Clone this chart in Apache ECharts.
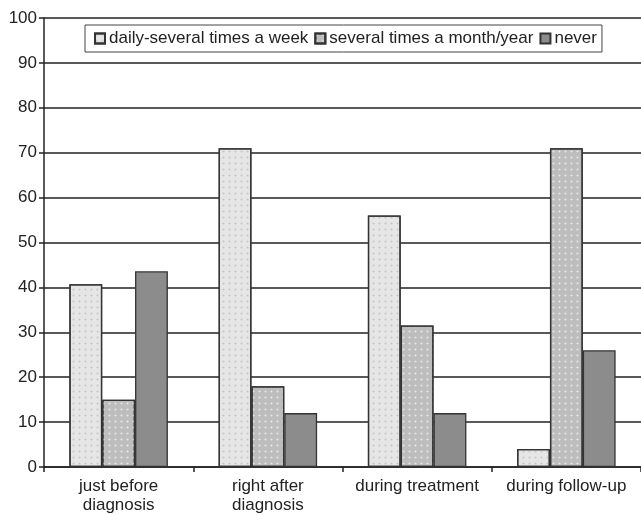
<!DOCTYPE html>
<html style="height: 100%">
<head>
<meta charset="utf-8">
<script src="https://cdn.jsdelivr.net/npm/echarts@6/dist/echarts.min.js"></script>
</head>
<body style="height: 100%; margin: 0; background: #fff">
<div id="container" style="width: 641px; height: 515px"></div>
<script type="text/javascript">
// categories and series values
var categories = ['just before\ndiagnosis', 'right after\ndiagnosis', 'during treatment', 'during follow-up'];
var seriesNames = ['daily-several times a week', 'several times a month/year', 'never'];
var daily = [40.7, 71, 56, 4];
var monthly = [15, 18, 31.5, 71];
var never = [43.6, 12, 12, 26];
var yTicks = [0, 100, 10];

var dom = document.getElementById('container');
var myChart = echarts.init(dom);

var font = 'Liberation Sans, Arial, sans-serif';

function dots(size, col) {
  return {
    symbol: 'circle',
    symbolSize: size,
    color: col,
    dashArrayX: 3,
    dashArrayY: 3,
    rotation: 0
  };
}

var styles = [
  { color: '#e6e6e6', borderColor: '#333', borderWidth: 1.3, decal: dots(0.7, 'rgba(190,190,190,0.8)') },
  { color: '#bdbdbd', borderColor: '#333', borderWidth: 1.3, decal: dots(0.7, 'rgba(235,235,235,0.9)') },
  { color: '#8c8c8c', borderColor: '#333', borderWidth: 1.3 }
];
var values = [daily, monthly, never];

var option = {
  animation: false,
  backgroundColor: '#fff',
  textStyle: { fontFamily: font },
  grid: { left: 44, right: 0, top: 18, bottom: 47, containLabel: false },
  legend: {
    data: seriesNames,
    left: 85,
    top: 25,
    padding: [5, 5, 5, 9],
    itemGap: 6,
    itemWidth: 10,
    itemHeight: 10,
    icon: 'rect',
    borderColor: '#444',
    borderWidth: 1,
    backgroundColor: '#fff',
    textStyle: { fontFamily: font, fontSize: 17, color: '#222', padding: [0, 0, 0, -1] }
  },
  xAxis: {
    type: 'category',
    data: categories,
    axisLine: { lineStyle: { color: '#222', width: 1.5 } },
    axisTick: { show: true, interval: 0, length: 5, lineStyle: { color: '#222', width: 1.5 } },
    axisLabel: { interval: 0, fontFamily: font, fontSize: 17, color: '#222', margin: 10, lineHeight: 19 },
    splitLine: { show: false }
  },
  yAxis: {
    type: 'value',
    min: yTicks[0],
    max: yTicks[1],
    interval: yTicks[2],
    axisLine: { show: true, lineStyle: { color: '#222', width: 1.5 } },
    axisTick: { show: true, length: 5, lineStyle: { color: '#222', width: 1.5 } },
    axisLabel: { fontFamily: font, fontSize: 17, color: '#222', margin: 7 },
    splitLine: { show: true, lineStyle: { color: '#222', width: 1.5 } }
  },
  series: seriesNames.map(function (name, i) {
    return {
      name: name,
      type: 'bar',
      data: values[i],
      barGap: '0%',
      barCategoryGap: '34%',
      itemStyle: styles[i]
    };
  })
};

myChart.setOption(option, true);
</script>
</body>
</html>
